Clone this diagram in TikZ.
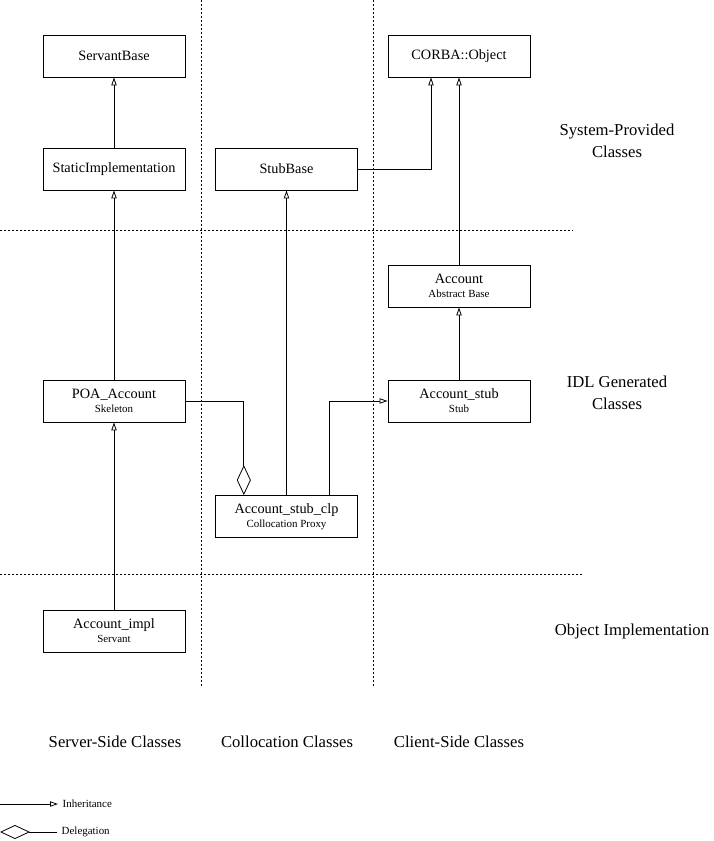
\documentclass[tikz,border=0pt]{standalone}
\usepackage{fontspec}
\setmainfont{Liberation Serif}
\usetikzlibrary{arrows.meta}
\newcommand{\clsnote}{\fontsize{8.2}{9}\selectfont}
\begin{document}
\begin{tikzpicture}[x=0.75pt, y=-0.75pt, line join=miter, font=\fontsize{10.7}{12}\selectfont,
	cls/.style={draw, line width=0.6pt, minimum width=106.5pt, minimum height=31.5pt, inner sep=1pt, align=center},
	inh/.style={line width=0.6pt, -{Triangle[open, length=6pt, width=4pt]}},
	dlg/.style={line width=0.6pt, -{Diamond[open, length=22.5pt, width=10.5pt]}},
	sep/.style={line width=0.6pt, dash pattern=on 1.5pt off 1.5pt},
	lbl/.style={align=center, font=\fontsize{12.5}{16.5}\selectfont}]
	\useasboundingbox (0,0) rectangle (713,841);
	% separators
	\draw[sep] (201,0)--(201,688) (373,0)--(373,688);
	\draw[sep] (0,230)--(573,230) (0,574)--(583,574);
	% classes
	\node[cls] (servant) at (114,56) {ServantBase};
	\node[cls] (static) at (114,169) {StaticImplementation};
	\node[cls] (corba) at (459,56) {CORBA::Object};
	\node[cls] (stubbase) at (286.5,169) {StubBase};
	\node[cls] (account) at (459,286) {Account\\[-1.5pt]{\clsnote Abstract Base}};
	\node[cls] (poa) at (114,401) {POA\_Account\\[-1.5pt]{\clsnote Skeleton}};
	\node[cls] (acstub) at (459,401) {Account\_stub\\[-1.5pt]{\clsnote Stub}};
	\node[cls] (clp) at (286.5,516.5) {Account\_stub\_clp\\[-1.5pt]{\clsnote Collocation Proxy}};
	\node[cls] (impl) at (114,631) {Account\_impl\\[-1.5pt]{\clsnote Servant}};
	% inheritance and delegation
	\draw[inh] (static.north)--(servant.south);
	\draw[inh] (poa.north)--(static.south);
	\draw[inh] (impl.north)--(poa.south);
	\draw[inh] (stubbase.east) -| ([xshift=-21pt]corba.south);
	\draw[inh] (account.north)--(corba.south);
	\draw[inh] (acstub.north)--(account.south);
	\draw[inh] (clp.north)--(stubbase.south);
	\draw[inh] ([xshift=32pt]clp.north) |- (acstub.west);
	\draw[dlg] (poa.east) -| ([xshift=-32pt]clp.north);
	% row and column labels
	\node[lbl] (sysl) at (617,141) {System-Provided\\Classes};
	\node[lbl] (idll) at (617,393) {IDL Generated\\Classes};
	\node[lbl] (objl) at (632,631) {Object Implementation};
	\node[lbl] (serverl) at (115,742) {Server-Side Classes};
	\node[lbl] (colll) at (287,742) {Collocation Classes};
	\node[lbl] (clientl) at (459,742) {Client-Side Classes};
	% legend
	\coordinate (inhs) at (0,804);
	\node[font=\clsnote, anchor=west] (inht) at (58,804) {Inheritance};
	\node[font=\clsnote, anchor=west] (dlgt) at (57,832) {Delegation};
	\draw[inh] (inhs)--(inht.west);
	\draw[dlg] (dlgt.west)--++(-57,0);
\end{tikzpicture}
\end{document}
